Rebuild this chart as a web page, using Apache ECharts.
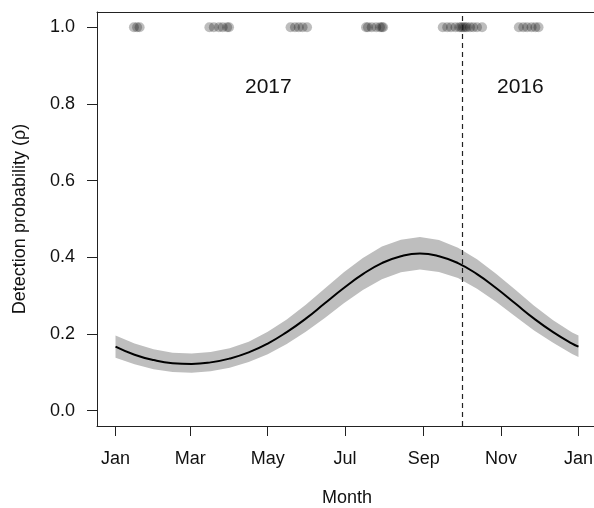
<!DOCTYPE html>
<html>
<head>
<meta charset="utf-8">
<script src="https://cdn.jsdelivr.net/npm/echarts@6/dist/echarts.min.js"></script>
<style>
html,body{margin:0;padding:0;background:#fff;}
#chart{width:594px;height:508px;}
</style>
</head>
<body>
<div id="chart"></div>
<script>
// Month ticks (day of year) and labels
const tickDays = [0, 59, 120, 181, 243, 304, 365];
const tickLabels = ['Jan', 'Mar', 'May', 'Jul', 'Sep', 'Nov', 'Jan'];
const yTicks = [0, 0.2, 0.4, 0.6, 0.8, 1.0];

// Fitted detection probability curve (day of year) and its interval
const curveDays  = [0, 15, 30, 45, 60, 75, 90, 105, 120, 135, 150, 165, 180, 195, 210, 225, 240, 255, 270, 285, 300, 315, 330, 345, 360, 365];
const curveMean  = [0.167, 0.146, 0.132, 0.124, 0.122, 0.126, 0.136, 0.152, 0.175, 0.205, 0.240, 0.280, 0.320, 0.356, 0.385, 0.403, 0.410, 0.403, 0.385, 0.356, 0.320, 0.280, 0.240, 0.205, 0.175, 0.167];
const curveLower = [0.138, 0.121, 0.108, 0.101, 0.099, 0.103, 0.112, 0.127, 0.147, 0.174, 0.206, 0.242, 0.280, 0.315, 0.343, 0.361, 0.368, 0.362, 0.346, 0.318, 0.284, 0.246, 0.209, 0.177, 0.148, 0.140];
const curveUpper = [0.196, 0.175, 0.160, 0.151, 0.149, 0.153, 0.163, 0.180, 0.206, 0.238, 0.276, 0.319, 0.361, 0.398, 0.428, 0.446, 0.453, 0.445, 0.425, 0.395, 0.357, 0.316, 0.274, 0.236, 0.204, 0.196];

// Detection dates (day of year), all at probability 1
const detectionDays = [14.5, 17, 19,
  74, 77.5, 81.5, 84.5, 88, 89.5,
  138, 141.5, 144.5, 147.5, 151,
  197.5, 199, 202, 205.5, 208.5, 210, 211,
  258, 261.5, 264.5, 268, 271, 272.5, 274, 275.5, 277, 279.5, 282, 285, 289,
  318, 321.5, 324.5, 328, 331, 333.5];
const detectionValue = 1.0;

const boundaryDay = 273; // 1 October
const yearLabels = ['2017', '2016'];

const chart = echarts.init(document.getElementById('chart'));
const FONT = '"Liberation Sans", Arial, sans-serif';

const bandData = curveDays.map((d, i) => [d, curveLower[i], curveUpper[i]]);
const meanData = curveDays.map((d, i) => [d, curveMean[i]]);
const pointData = detectionDays.map(d => [d, detectionValue]);

function renderBand(params, api) {
  if (params.dataIndex !== 0) return null;
  const upper = bandData.map(r => api.coord([r[0], r[2]]));
  const lower = bandData.map(r => api.coord([r[0], r[1]])).reverse();
  return {
    type: 'polygon',
    shape: { points: upper.concat(lower) },
    style: { fill: '#bebebe', stroke: null },
    silent: true
  };
}

const lineCol = '#222';

chart.setOption({
  animation: false,
  backgroundColor: '#ffffff',
  grid: {
    left: 97, top: 12, width: 500, height: 414,
    show: false, containLabel: false, outerBoundsMode: 'none'
  },
  xAxis: [{
    type: 'value', min: -14.6, max: 379.6,
    name: 'Month', nameLocation: 'middle', nameGap: 63,
    nameTextStyle: { fontFamily: FONT, fontSize: 18, color: '#111' },
    axisLine: { show: true, onZero: false, lineStyle: { color: lineCol } },
    axisTick: { show: true, length: 10, customValues: tickDays, lineStyle: { color: lineCol } },
    axisLabel: {
      customValues: tickDays, margin: 24,
      fontFamily: FONT, fontSize: 18, color: '#111',
      formatter: v => { const i = tickDays.indexOf(v); return i >= 0 ? tickLabels[i] : ''; }
    },
    splitLine: { show: false }
  }, {
    type: 'value', min: -14.6, max: 379.6, position: 'top',
    axisLine: { show: true, onZero: false, lineStyle: { color: lineCol } },
    axisTick: { show: false }, axisLabel: { show: false }, splitLine: { show: false }
  }],
  yAxis: {
    type: 'value', min: -0.04, max: 1.04,
    name: 'Detection probability (\u03C1)', nameLocation: 'middle', nameGap: 68,
    nameTextStyle: { fontFamily: FONT, fontSize: 18, color: '#111' },
    axisLine: { show: true, onZero: false, lineStyle: { color: lineCol } },
    axisTick: { show: true, length: 10, customValues: yTicks, lineStyle: { color: lineCol } },
    axisLabel: {
      customValues: yTicks, margin: 22,
      fontFamily: FONT, fontSize: 18, color: '#111',
      formatter: v => v.toFixed(1)
    },
    splitLine: { show: false }
  },
  graphic: [
    { type: 'text', left: 245, top: 77, style: { text: yearLabels[0], fill: '#111', font: '21px "Liberation Sans", Arial, sans-serif' } },
    { type: 'text', left: 497, top: 77, style: { text: yearLabels[1], fill: '#111', font: '21px "Liberation Sans", Arial, sans-serif' } }
  ],
  series: [
    {
      type: 'custom', data: bandData, renderItem: renderBand, z: 1, silent: true,
      encode: { x: 0, y: [1, 2] }
    },
    {
      type: 'line', data: meanData, symbol: 'none', smooth: true,
      lineStyle: { color: '#000', width: 2 }, z: 3,
      markLine: {
        silent: true, symbol: 'none', label: { show: false },
        lineStyle: { color: '#222', type: [5, 4], width: 1.2 },
        data: [{ xAxis: boundaryDay }]
      }
    },
    {
      type: 'scatter', data: pointData, symbol: 'circle', symbolSize: 10,
      itemStyle: { color: 'rgba(0,0,0,0.32)' }, z: 4
    }
  ]
});
</script>
</body>
</html>
